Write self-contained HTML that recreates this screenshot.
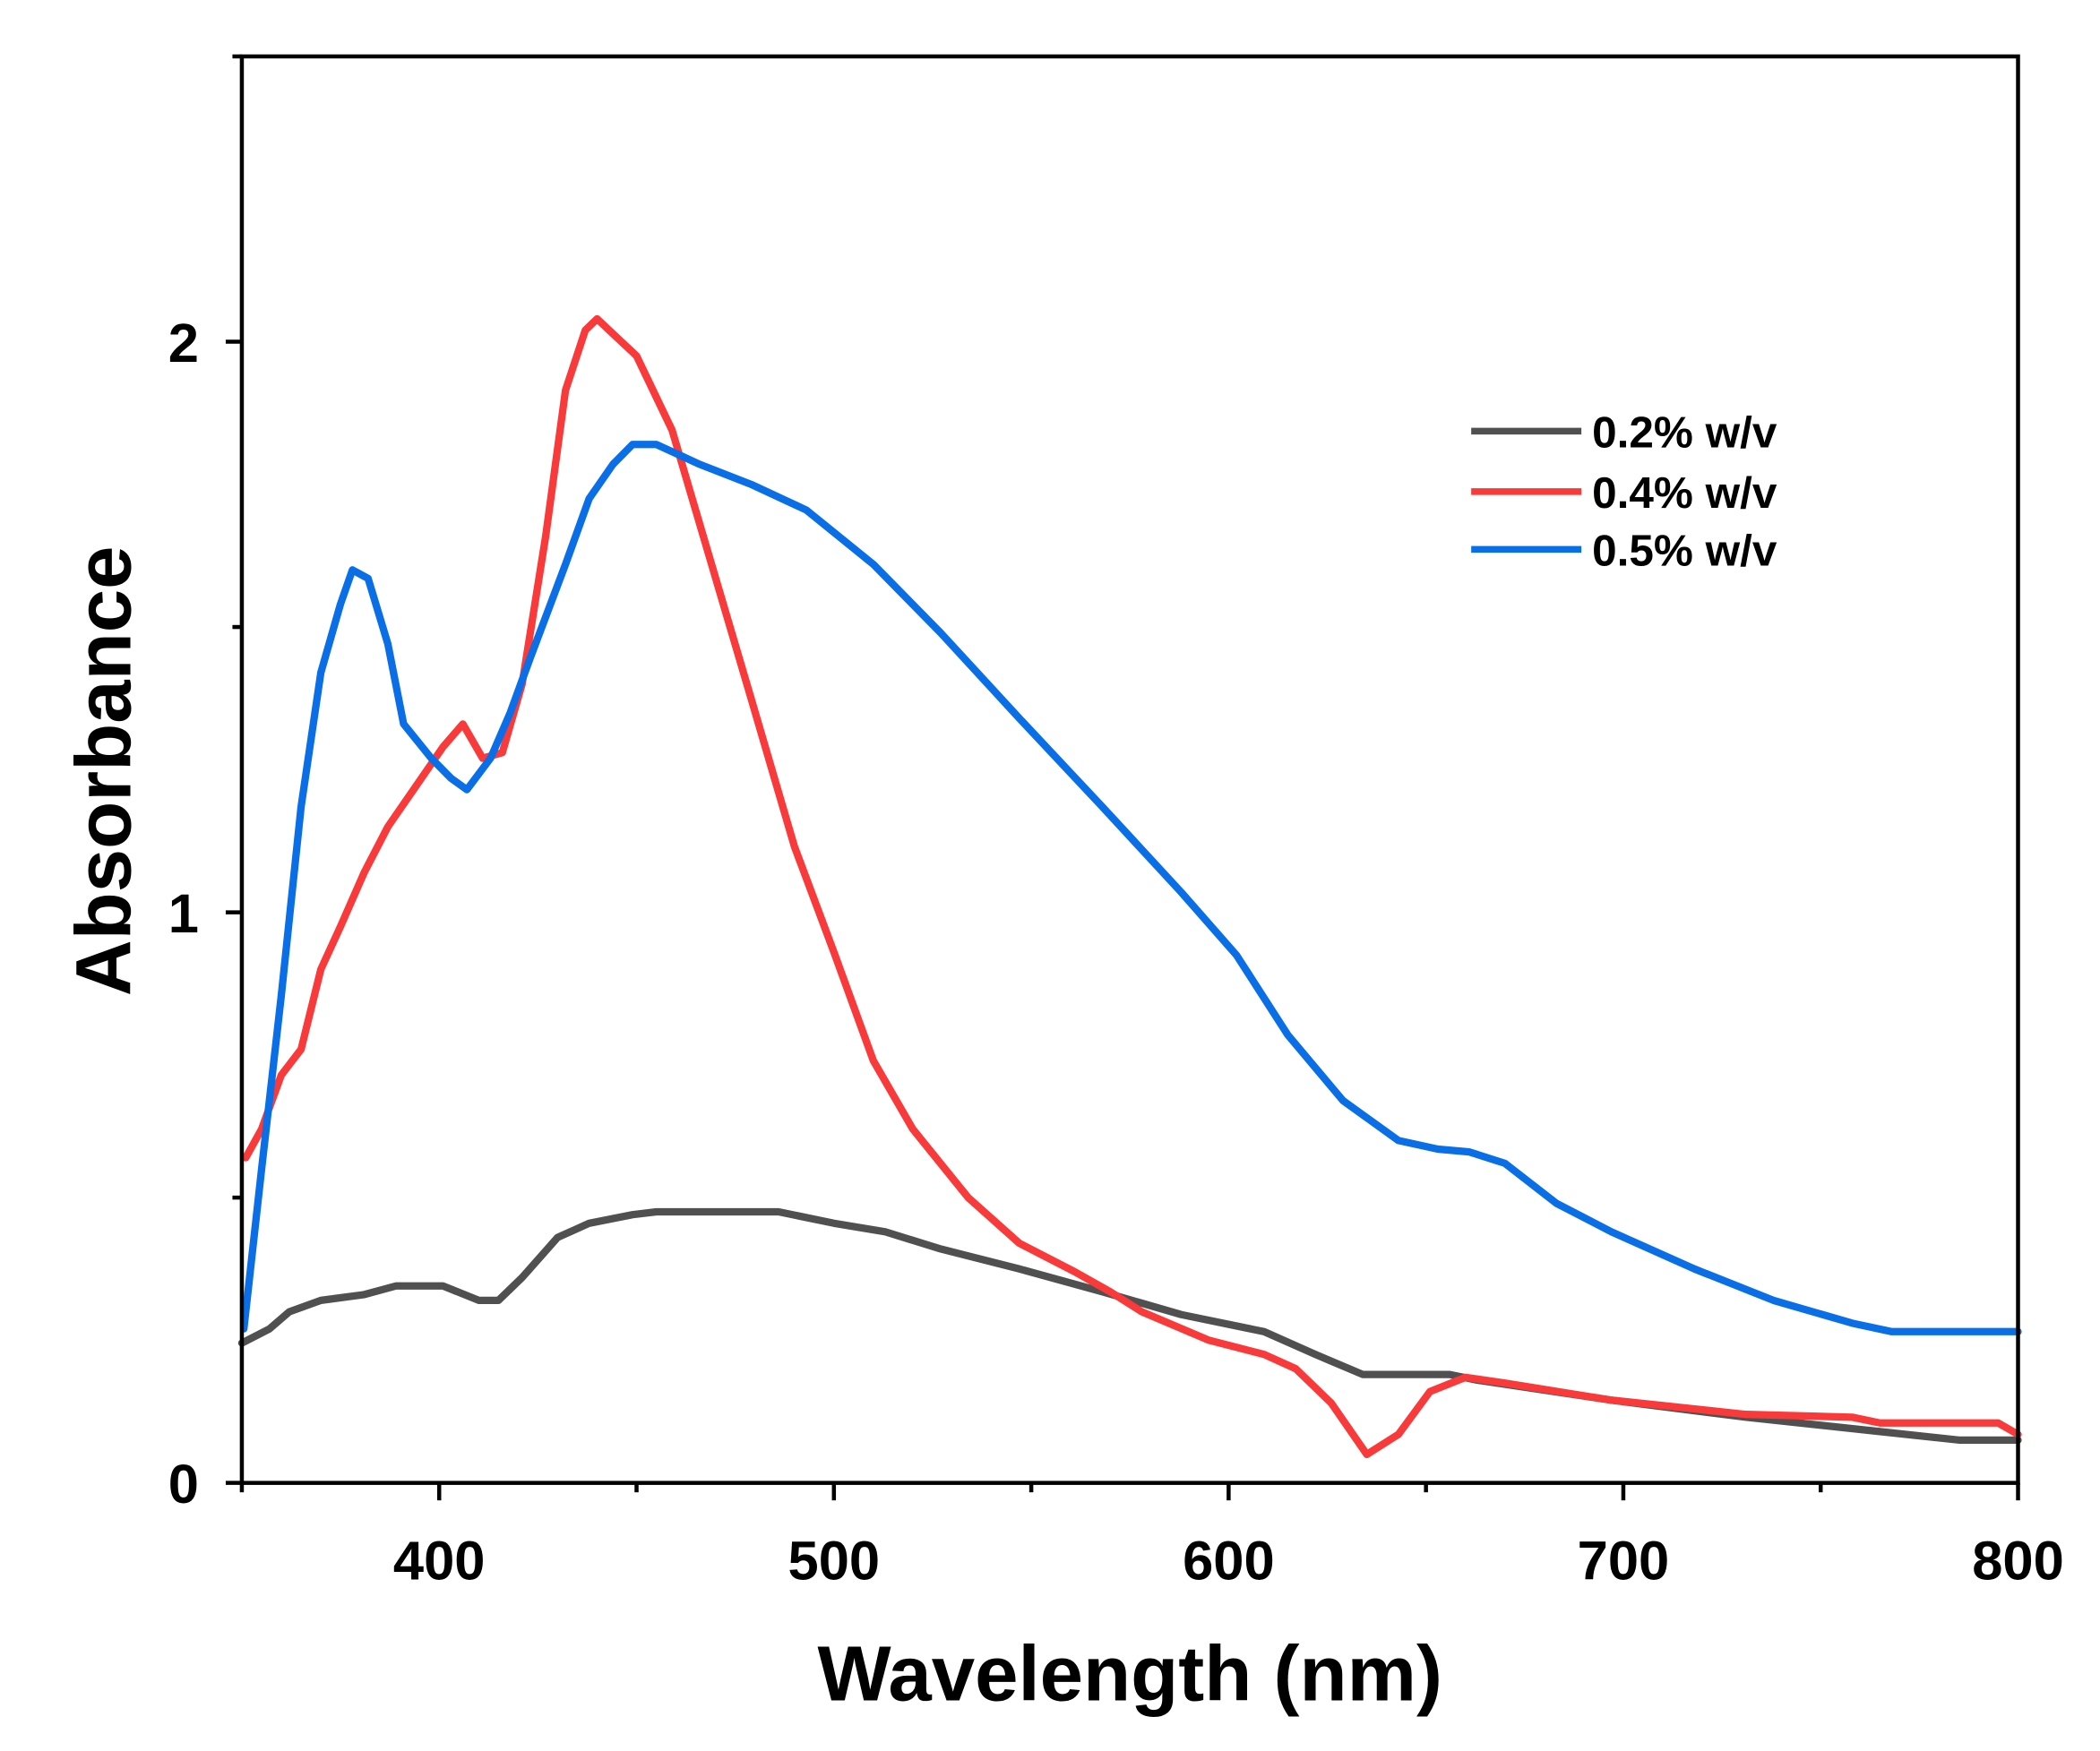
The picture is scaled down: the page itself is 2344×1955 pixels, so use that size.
<!DOCTYPE html>
<html><head><meta charset="utf-8"><style>html,body{margin:0;padding:0;background:#fff}svg{display:block}</style></head>
<body>
<svg width="2344" height="1955" viewBox="0 0 1563 1303.6" preserveAspectRatio="none" xmlns="http://www.w3.org/2000/svg" font-family="'Liberation Sans', Arial, sans-serif">
<g id="plot"></g>
</svg>
<script>
const xTicks=[400,500,600,700,800];
const yTicks=[0,1,2];
const seriesNames=["0.2% w/v","0.4% w/v","0.5% w/v"];
const grayWl=[350,357,362,370,381,389,401,410,415,421,430,438,449,455,486,500,513,527,547,568,588,609,622,634,656,663,697,731,765,785,800];
const grayA=[0.245,0.27,0.30,0.32,0.33,0.345,0.345,0.32,0.32,0.36,0.43,0.455,0.47,0.475,0.475,0.455,0.44,0.41,0.375,0.335,0.295,0.265,0.225,0.19,0.19,0.18,0.145,0.115,0.09,0.075,0.075];
const redWl=[351,355,360,365,370,375,381,387,394,401,406,411,416,421,427,432,437,440,450,459,469,479,490,500,510,520,534,547,561,570,578,595,609,617,626,635,643,651,660,670,697,731,758,765,795,800];
const redA=[0.57,0.62,0.715,0.76,0.90,0.975,1.07,1.15,1.22,1.29,1.33,1.27,1.28,1.40,1.66,1.915,2.02,2.04,1.975,1.845,1.61,1.375,1.115,0.93,0.74,0.62,0.50,0.42,0.37,0.335,0.30,0.25,0.225,0.2,0.14,0.05,0.085,0.16,0.185,0.175,0.145,0.12,0.115,0.105,0.105,0.085];
const blueWl=[350.5,355,360,365,370,375,378,382,387,391,398,403,407,413,418,423,432,438,444,449,455,466,479,493,510,527,547,568,588,602,615,629,643,653,661,670,683,697,718,738,758,768,800];
const blueA=[0.27,0.55,0.855,1.185,1.42,1.54,1.6,1.585,1.47,1.33,1.27,1.235,1.215,1.27,1.35,1.445,1.61,1.725,1.785,1.82,1.82,1.785,1.75,1.705,1.61,1.49,1.34,1.185,1.035,0.925,0.785,0.67,0.6,0.585,0.58,0.56,0.49,0.44,0.375,0.32,0.28,0.265,0.265];

const L=180,R=1502,T=42,B=1104;
const xs=v=>L+(v-350)*(R-L)/450;
const ys=v=>B-v*(B-T)/2.5;
const NS="http://www.w3.org/2000/svg";
const g=document.getElementById('plot');
function mk(t,a){const e=document.createElementNS(NS,t);for(const k in a)e.setAttribute(k,a[k]);g.appendChild(e);return e;}

function line(wl,a,color,name){
  const d=wl.map((w,i)=>(i?'L':'M')+xs(w).toFixed(1)+','+ys(a[i]).toFixed(1)).join('');
  const p=mk('path',{d:d,fill:'none',stroke:color,'stroke-width':5.5,'stroke-linejoin':'round','stroke-linecap':'round'});
  
  
}
line(grayWl,grayA,'#505050','series-0-2-percent');
line(redWl,redA,'#f83a3a','series-0-4-percent');
line(blueWl,blueA,'#0a6ee6','series-0-5-percent');

const frame=mk('rect',{x:L,y:T,width:R-L,height:B-T,fill:'none',stroke:'#000','stroke-width':3});



for(let v=350;v<=800;v+=50){
  const major=v%100===0;
  mk('line',{x1:xs(v),x2:xs(v),y1:B,y2:B+(major?13:7),stroke:'#000','stroke-width':3});
}
xTicks.forEach(v=>{
  const t=mk('text',{x:xs(v),y:B+72,'font-size':41,'font-weight':'bold','text-anchor':'middle'});
  t.textContent=v;
  
  
});
for(let v=0;v<=2.5;v+=0.5){
  const major=Math.abs(v-Math.round(v))<1e-6;
  mk('line',{x1:L,x2:L-(major?12:7),y1:ys(v),y2:ys(v),stroke:'#000','stroke-width':3});
}
yTicks.forEach(v=>{
  const t=mk('text',{x:L-32,y:ys(v)+15,'font-size':41,'font-weight':'bold','text-anchor':'end'});
  t.textContent=v;
  
  
});
const xt=mk('text',{x:841,y:1266,'font-size':58,'font-weight':'bold','text-anchor':'middle'});
xt.textContent='Wavelength (nm)';


const yt=mk('text',{x:0,y:0,'font-size':58,'font-weight':'bold','text-anchor':'middle',transform:'translate(97,574) rotate(-90)'});
yt.textContent='Absorbance';



const colors=['#505050','#f83a3a','#0a6ee6'];
const ly=[321,366,409];
seriesNames.forEach((n,i)=>{
  const l=mk('line',{x1:1095,x2:1177,y1:ly[i],y2:ly[i],stroke:colors[i],'stroke-width':5});
  
  
  const t=mk('text',{x:1185,y:ly[i]+12,'font-size':33,'font-weight':'bold'});
  t.textContent=n;
  
  
});
</script>
</body></html>
